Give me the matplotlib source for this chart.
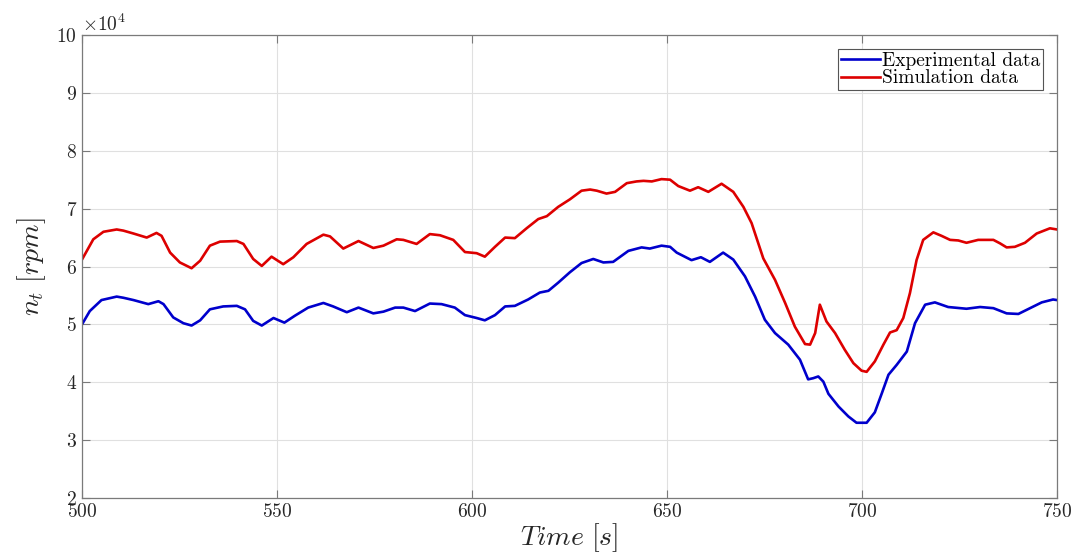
import numpy as np
import matplotlib
matplotlib.use('Agg')
import matplotlib.pyplot as plt

# Datos (tiempo en s, velocidad en rpm/1e4)
t_exp = [500, 502, 505, 508.9, 510.6, 513.2, 517, 519.6, 520.9, 523.4, 526, 528.1,
         530.3, 532.8, 536.2, 539.7, 541.8, 543.9, 546.1, 549.1, 551.9, 554.6,
         558, 561.9, 564.4, 567.9, 570.9, 574.7, 577.3, 580.3, 582.4, 585.4,
         589.2, 592.2, 595.6, 598.2, 601.2, 603.3, 605.9, 608.5, 611, 614.4,
         617.4, 619.6, 622.1, 625.1, 628.1, 631.1, 633.7, 636.2, 640.1, 643.5,
         645.6, 648.6, 650.8, 652.5, 656.3, 658.7, 661, 664.4, 667, 670, 672.6,
         675.1, 677.7, 681.1, 684.1, 686.2, 687.5, 688.8, 690.1, 691.4, 694,
         696.5, 698.6, 701.2, 703.3, 705.1, 706.8, 708.9, 711.5, 713.6, 716.2,
         718.7, 722.1, 726.8, 730.3, 733.7, 737.1, 740.1, 743.1, 746.1, 749, 750]
n_exp = [5.0, 5.23, 5.42, 5.48, 5.46, 5.42, 5.35, 5.4, 5.35, 5.12, 5.02, 4.98,
         5.07, 5.26, 5.31, 5.32, 5.26, 5.06, 4.98, 5.11, 5.03, 5.15,
         5.29, 5.37, 5.31, 5.21, 5.29, 5.19, 5.22, 5.29, 5.29, 5.23,
         5.36, 5.35, 5.29, 5.16, 5.11, 5.07, 5.16, 5.31, 5.32, 5.43,
         5.55, 5.58, 5.72, 5.9, 6.06, 6.13, 6.07, 6.08, 6.27, 6.33,
         6.31, 6.36, 6.34, 6.24, 6.11, 6.16, 6.08, 6.24, 6.12, 5.83, 5.48,
         5.08, 4.85, 4.65, 4.39, 4.05, 4.07, 4.1, 4.01, 3.8, 3.58,
         3.41, 3.3, 3.3, 3.48, 3.81, 4.13, 4.3, 4.53, 5.02, 5.34,
         5.38, 5.3, 5.27, 5.3, 5.28, 5.19, 5.18, 5.28, 5.38, 5.43, 5.42]

t_sim = [500, 502.9, 505.5, 508.9, 510.6, 513.2, 516.6, 519.1, 520.4, 522.6, 525.1,
         528.1, 530.3, 532.8, 535.4, 539.7, 541.4, 543.9, 546.1, 548.6, 551.6,
         554.2, 557.6, 561.9, 563.6, 567, 570.9, 574.7, 577.3, 580.7, 582.4,
         585.8, 589.2, 591.8, 595.2, 598.2, 601.2, 603.3, 605.9, 608.5, 611,
         614, 617, 619.2, 622.1, 625.1, 628.1, 630.3, 632, 634.5, 636.7, 639.7,
         642.2, 644, 646.1, 648.6, 650.8, 652.9, 655.9, 658, 660.6, 664, 667,
         669.6, 671.7, 674.7, 677.7, 680.3, 682.8, 685.4, 686.7, 688, 689.2,
         690.9, 693.1, 695.6, 697.8, 699.9, 701.2, 703.3, 705.5, 707.2, 708.9,
         710.6, 712.3, 714, 715.7, 718.3, 720.4, 722.6, 724.7, 726.8, 729.8,
         733.7, 735.4, 737.1, 739.2, 741.8, 744.8, 748.2, 750]
n_sim = [6.12, 6.47, 6.6, 6.64, 6.62, 6.57, 6.5, 6.58, 6.53, 6.24, 6.07,
         5.97, 6.1, 6.36, 6.43, 6.44, 6.39, 6.13, 6.01, 6.17, 6.04,
         6.16, 6.39, 6.55, 6.52, 6.31, 6.44, 6.32, 6.36, 6.47, 6.46,
         6.39, 6.56, 6.54, 6.46, 6.25, 6.23, 6.17, 6.34, 6.5, 6.49,
         6.66, 6.82, 6.87, 7.03, 7.16, 7.31, 7.33, 7.31, 7.26, 7.29, 7.44,
         7.47, 7.48, 7.47, 7.51, 7.5, 7.39, 7.31, 7.37, 7.29, 7.43, 7.29,
         7.03, 6.75, 6.14, 5.77, 5.37, 4.96, 4.66, 4.65, 4.85, 5.34,
         5.05, 4.85, 4.56, 4.33, 4.2, 4.18, 4.36, 4.65, 4.86, 4.9,
         5.11, 5.54, 6.11, 6.46, 6.59, 6.53, 6.46, 6.45, 6.41, 6.46,
         6.46, 6.4, 6.33, 6.34, 6.41, 6.57, 6.66, 6.64]

plt.rcParams['font.family'] = 'cmr10'
plt.rcParams['mathtext.fontset'] = 'cm'
plt.rcParams['axes.formatter.use_mathtext'] = True

fig = plt.figure(figsize=(10.76, 5.54), dpi=100)
ax = fig.add_axes([0.0762, 0.1011, 0.9061, 0.8357])

ax.plot(t_exp, np.array(n_exp) * 1e4, color='#0000cc', lw=1.9,
        solid_joinstyle='round', label='Experimental data')
ax.plot(t_sim, np.array(n_sim) * 1e4, color='#dd0000', lw=1.9,
        solid_joinstyle='round', label='Simulation data')

ax.set_xlim(500, 750)
ax.set_ylim(2e4, 10e4)
ax.set_xticks(np.arange(500, 751, 50))
ax.set_yticks(np.arange(2e4, 10.1e4, 1e4))
ax.ticklabel_format(style='sci', axis='y', scilimits=(4, 4), useMathText=True)

ax.grid(True, color='#e0e0e0', lw=0.8)
ax.set_axisbelow(True)
for s in ax.spines.values():
    s.set_color('#7a7a7a')
    s.set_linewidth(0.9)
ax.tick_params(direction='in', top=True, right=True, length=6, colors='#7a7a7a',
               labelcolor='#262626', labelsize=14)
ax.yaxis.get_offset_text().set_fontsize(14)
ax.yaxis.get_offset_text().set_color('#262626')

ax.set_xlabel(r'$Time\ [s]$', fontsize=20, color='#262626', labelpad=0)
ax.set_ylabel(r'$n_t\ [rpm]$', fontsize=20, color='#262626', labelpad=6)

leg = ax.legend(loc='upper right', fontsize=14, fancybox=False, framealpha=1,
                edgecolor='#555555', handlelength=2.0, borderpad=0.15,
                labelspacing=0.0, handletextpad=0.1, borderaxespad=0.7)
leg.get_frame().set_linewidth(0.8)

plt.savefig('out.png', dpi=100)
